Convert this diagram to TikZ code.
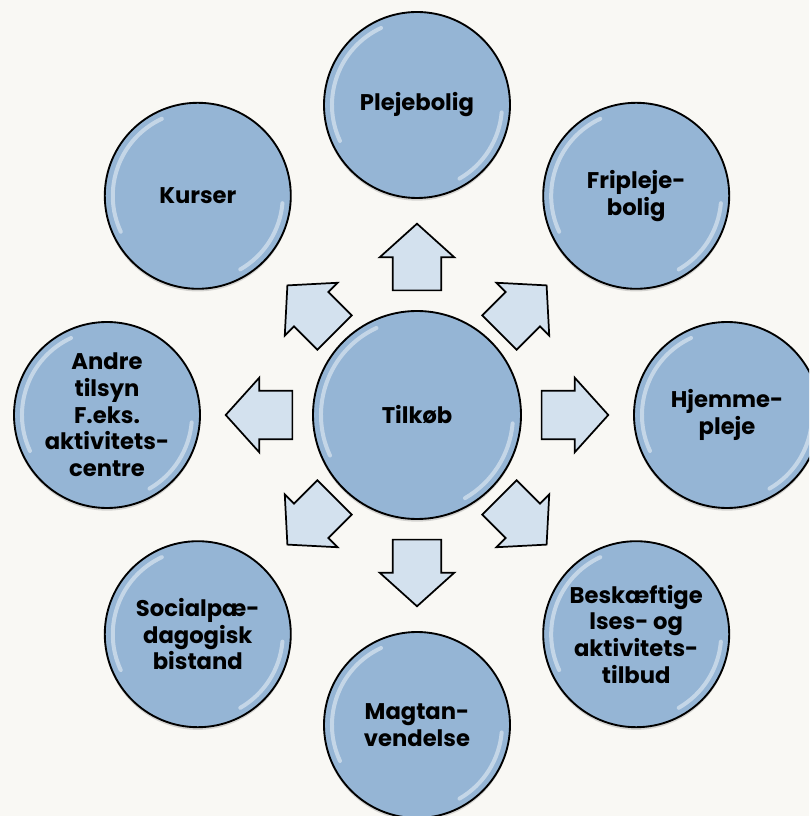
\documentclass[tikz,border=0pt]{standalone}
\usepackage{fontspec}
\setmainfont{Poppins}
\usetikzlibrary{shapes.arrows,shadows,calc}

\definecolor{paper}{HTML}{F9F8F4}
\definecolor{ballblue}{HTML}{95B5D5}
\definecolor{arrowblue}{HTML}{D3E1EE}

\def\px{0.75pt}

\begin{document}
\begin{tikzpicture}[x=\px, y=\px,
    ball/.style={circle, draw=black, line width=1.4pt, fill=ballblue, inner sep=0pt,
      minimum size=139.5pt, align=center, font=\fontsize{17}{20}\selectfont\bfseries,
      drop shadow={opacity=0.3, shadow xshift=0pt, shadow yshift=-2pt},
      path picture={
        \draw[white, opacity=0.45, line width=3pt, line cap=round]
          let \p1=(path picture bounding box.center), \p2=(path picture bounding box.east),
              \n1={\x2-\x1-6pt} in
          ($(\p1)+(115:\n1)$) arc[start angle=115, end angle=205, radius=\n1]
          ($(\p1)+(-5:\n1)$) arc[start angle=-5, end angle=-60, radius=\n1];
      }},
    bigball/.style={ball, minimum size=156pt},
    blockarrow/.style={single arrow, draw=black, line width=1.3pt, fill=arrowblue,
      inner xsep=0pt, inner ysep=17.6pt, minimum height=50pt,
      single arrow head extend=9.75pt, single arrow tip angle=96}]

  \path[use as bounding box, fill=paper] (-417,-401) rectangle (392,415);
  \clip (-417,-401) rectangle (392,415);

  % middle
  \node[bigball] (tilkob) at (0,0) {Tilkøb};

  % ring of offers
  \node[ball] (plejebolig) at (90:310) {Plejebolig};
  \node[ball] (fripleje) at (45:310) {Fripleje-\\bolig};
  \node[ball] (hjemmepleje) at (0:310) {Hjemme-\\pleje};
  \node[ball] (beskaeft) at (-45:310) {Beskæftige\\lses- og\\aktivitets-\\tilbud};
  \node[ball] (magt) at (-90:310) {Magtan-\\vendelse};
  \node[ball] (social) at (-135:310) {Socialpæ-\\dagogisk\\bistand};
  \node[ball] (andre) at (180:310) {Andre\\tilsyn\\F.eks.\\aktivitets-\\centre};
  \node[ball] (kurser) at (135:310) {Kurser};

  % arrows
  \node[blockarrow, rotate=90] (a-plejebolig) at (90:147) {};
  \node[blockarrow, rotate=45] (a-fripleje) at (45:139) {};
  \node[blockarrow, rotate=0] (a-hjemmepleje) at (0:147) {};
  \node[blockarrow, rotate=-45] (a-beskaeft) at (-45:139) {};
  \node[blockarrow, rotate=-90] (a-magt) at (-90:147) {};
  \node[blockarrow, rotate=-135] (a-social) at (-135:139) {};
  \node[blockarrow, rotate=180] (a-andre) at (180:147) {};
  \node[blockarrow, rotate=135] (a-kurser) at (135:139) {};
\end{tikzpicture}
\end{document}
